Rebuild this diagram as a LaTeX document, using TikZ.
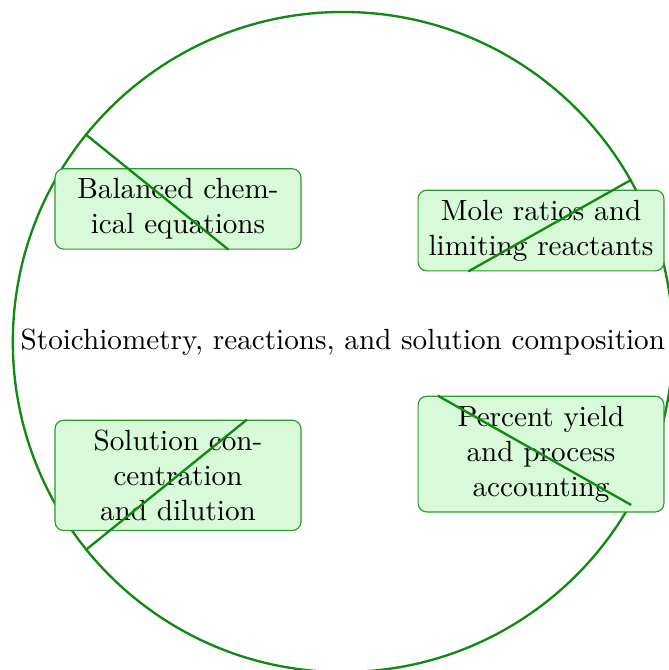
\documentclass[tikz,border=0pt]{standalone}
\usepackage{tikz}
\usetikzlibrary{positioning}
\definecolor{sline}{HTML}{108A10}
\definecolor{sfill}{HTML}{D8FAD8}
\definecolor{sedge}{HTML}{2E9A2E}

\begin{document}
\begin{tikzpicture}[
  hub/.style={circle, draw=sline, thick, inner sep=2.7pt},
  topic/.style={rectangle, rounded corners=3pt, draw=sedge, fill=sfill,
    text width=77.6pt, align=center, inner sep=3.33pt},
  link/.style={thick, color=sline}
]
\useasboundingbox (-117.5pt,-112.4pt) rectangle (111.7pt,117.2pt);
\node[hub] (stoich) at (0,0) {Stoichiometry, reactions, and solution composition};

\node[topic] (eqn) at (-56.5pt,45.6pt) {Balanced chem-\\ical equations};
\node[topic] (ratio) at (67.9pt,38.2pt) {Mole ratios and\\limiting reactants};
\node[topic] (conc) at (-56.5pt,-45.7pt) {Solution con-\\centration\\and dilution};
\node[topic] (yield) at (67.9pt,-38.4pt) {Percent yield\\and process\\accounting};

\draw[link] (stoich) -- (eqn);
\draw[link] (stoich) -- (ratio);
\draw[link] (stoich) -- (conc);
\draw[link] (stoich) -- (yield);
\end{tikzpicture}
\end{document}
